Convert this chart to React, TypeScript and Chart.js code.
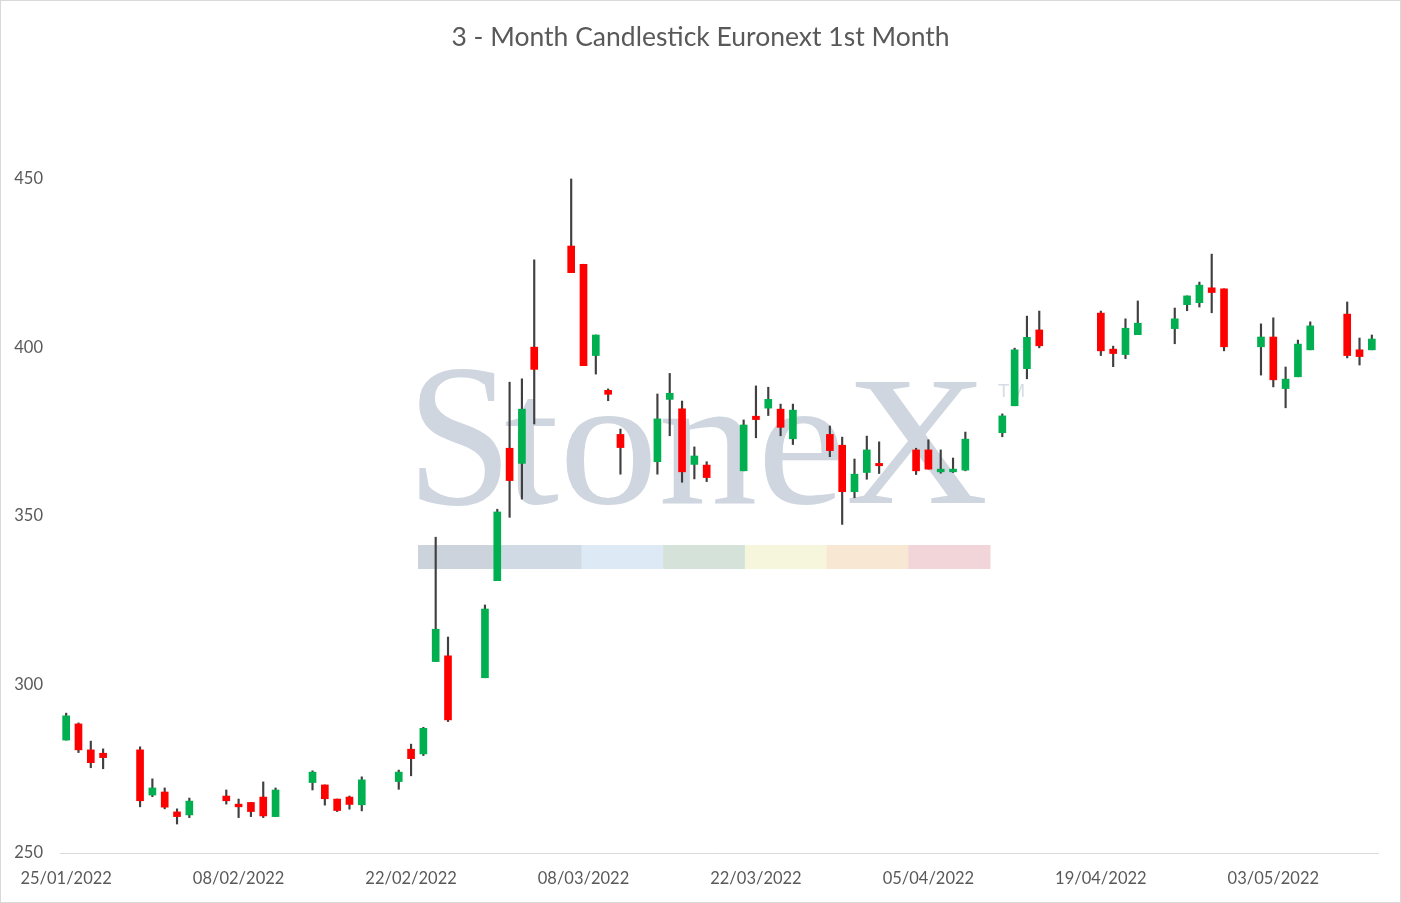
import { useEffect, useRef } from 'react';
import { Chart, registerables } from 'chart.js';

Chart.register(...registerables);

// trading days shown on the chart
const dates = [
  '25/01/2022', '26/01/2022', '27/01/2022', '28/01/2022',
  '31/01/2022', '01/02/2022', '02/02/2022', '03/02/2022', '04/02/2022',
  '07/02/2022', '08/02/2022', '09/02/2022', '10/02/2022', '11/02/2022',
  '14/02/2022', '15/02/2022', '16/02/2022', '17/02/2022', '18/02/2022',
  '21/02/2022', '22/02/2022', '23/02/2022', '24/02/2022', '25/02/2022',
  '28/02/2022', '01/03/2022', '02/03/2022', '03/03/2022', '04/03/2022',
  '07/03/2022', '08/03/2022', '09/03/2022', '10/03/2022', '11/03/2022',
  '14/03/2022', '15/03/2022', '16/03/2022', '17/03/2022', '18/03/2022',
  '21/03/2022', '22/03/2022', '23/03/2022', '24/03/2022', '25/03/2022',
  '28/03/2022', '29/03/2022', '30/03/2022', '31/03/2022', '01/04/2022',
  '04/04/2022', '05/04/2022', '06/04/2022', '07/04/2022', '08/04/2022',
  '11/04/2022', '12/04/2022', '13/04/2022', '14/04/2022',
  '19/04/2022', '20/04/2022', '21/04/2022', '22/04/2022',
  '25/04/2022', '26/04/2022', '27/04/2022', '28/04/2022', '29/04/2022',
  '02/05/2022', '03/05/2022', '04/05/2022', '05/05/2022', '06/05/2022',
  '09/05/2022', '10/05/2022', '11/05/2022',
];

const opens = [
  283.5, 288.3, 280.6, 279.6,
  280.6, 267.2, 268.1, 262.2, 261.3,
  266.9, 264.5, 265.0, 266.6, 260.8,
  270.9, 270.2, 266.0, 266.6, 264.3,
  271.2, 280.8, 279.4, 306.8, 308.5,
  302.0, 330.8, 370.1, 365.6, 400.1,
  430.1, 424.7, 397.6, 387.3, 374.2,
  366.1, 384.6, 381.8, 365.3, 365.1,
  363.4, 379.6, 382.0, 381.7, 372.9,
  374.2, 371.0, 357.2, 362.9, 365.6,
  369.6, 369.6, 363.1, 363.1, 363.6,
  374.7, 382.7, 393.7, 405.2,
  410.2, 399.5, 397.9, 403.8,
  405.6, 412.7, 413.3, 417.7, 417.4,
  400.2, 403.1, 387.8, 391.3, 399.3,
  409.9, 399.3, 399.3,
];

const highs = [
  291.5, 288.6, 283.2, 280.9,
  281.5, 272.0, 269.3, 263.1, 266.3,
  268.7, 266.0, 265.0, 271.1, 269.3,
  274.4, 270.2, 266.0, 266.9, 272.6,
  274.6, 282.3, 287.3, 343.7, 314.1,
  323.6, 352.0, 389.7, 390.7, 426.0,
  450.0, 424.7, 403.7, 387.7, 375.8,
  386.2, 392.3, 384.1, 370.5, 366.1,
  378.5, 388.6, 388.2, 383.2, 383.2,
  376.7, 373.4, 366.9, 373.7, 372.0,
  370.1, 372.6, 369.6, 367.2, 374.9,
  380.3, 399.8, 409.3, 410.8,
  410.8, 400.4, 408.5, 413.8,
  411.7, 415.3, 419.4, 427.7, 417.4,
  407.0, 408.8, 394.2, 402.2, 407.6,
  413.5, 402.8, 403.7,
];

const lows = [
  283.5, 279.8, 275.3, 275.0,
  263.7, 266.7, 263.1, 258.6, 260.5,
  264.5, 260.5, 260.8, 260.5, 260.8,
  268.7, 264.2, 262.3, 263.0, 262.5,
  268.9, 272.9, 278.9, 306.8, 289.0,
  302.0, 330.8, 349.6, 355.0, 377.3,
  422.2, 394.6, 392.1, 384.2, 362.4,
  362.4, 373.8, 360.0, 361.0, 360.2,
  363.4, 373.2, 379.8, 373.8, 371.2,
  367.6, 347.5, 355.4, 360.9, 362.6,
  362.3, 363.9, 362.7, 362.9, 363.4,
  373.5, 382.7, 390.7, 399.9,
  397.6, 394.3, 396.7, 403.8,
  401.1, 410.9, 412.0, 410.3, 399.0,
  391.8, 388.3, 382.1, 391.3, 399.3,
  396.9, 394.8, 399.3,
];

const closes = [
  290.7, 280.6, 276.8, 278.3,
  265.5, 269.3, 263.6, 260.8, 265.4,
  265.5, 263.7, 262.3, 261.0, 268.7,
  274.0, 266.1, 262.6, 264.4, 271.7,
  274.0, 278.0, 287.0, 316.4, 289.5,
  322.4, 351.2, 360.5, 381.7, 393.5,
  422.2, 394.6, 403.7, 386.1, 370.3,
  378.8, 386.4, 363.1, 367.8, 361.4,
  377.0, 378.6, 384.6, 376.3, 381.4,
  369.4, 357.2, 362.4, 369.6, 364.9,
  363.4, 363.9, 363.9, 363.9, 372.8,
  379.7, 399.3, 403.0, 400.5,
  399.0, 398.2, 405.7, 407.2,
  408.5, 415.3, 418.5, 416.3, 400.2,
  403.1, 390.4, 390.6, 401.0, 406.4,
  397.6, 397.3, 402.5,
];

const tickLabels = [
  '25/01/2022', '08/02/2022', '22/02/2022', '08/03/2022',
  '22/03/2022', '05/04/2022', '19/04/2022', '03/05/2022',
];
const yTicks = [250, 300, 350, 400, 450];

const TITLE = '3 - Month Candlestick Euronext 1st Month';
const UP = '#00B050';
const DOWN = '#FF0000';
const WICK = '#404040';
const TEXT = '#595959';
const FONT = 'Lato';

// days since the first trading day, used as the x value
const dayOf = (s: string) => {
  const [d, m, y] = s.split('/').map(Number);
  return (Date.UTC(y, m - 1, d) - Date.UTC(2022, 0, 25)) / 86400000;
};

// draw text stretched into a box
function fitText(ctx: CanvasRenderingContext2D, text: string, font: string, x0: number, x1: number, top: number, bottom: number) {
  ctx.font = font;
  const m = ctx.measureText(text);
  const w = m.actualBoundingBoxLeft + m.actualBoundingBoxRight;
  const h = m.actualBoundingBoxAscent + m.actualBoundingBoxDescent;
  const sx = (x1 - x0) / w;
  const sy = (bottom - top) / h;
  ctx.save();
  ctx.translate(x0 + m.actualBoundingBoxLeft * sx, top + m.actualBoundingBoxAscent * sy);
  ctx.scale(sx, sy);
  ctx.textAlign = 'left';
  ctx.textBaseline = 'alphabetic';
  ctx.fillText(text, 0, 0);
  ctx.restore();
}

const stripeColors = ['#ccd3dc', '#d0dae5', '#dde9f4', '#d4e2da', '#f6f6dd', '#f8e7d3', '#f1d5d8'];

const watermark = {
  id: 'watermark',
  beforeDatasetsDraw(chart: Chart) {
    const ctx = chart.ctx;
    ctx.save();
    ctx.fillStyle = '#cfd6df';
    fitText(ctx, 'S', '200px "Liberation Serif"', 419, 501, 370, 506);
    fitText(ctx, 'toneX', '200px "Liberation Serif"', 505, 985, 383, 505);
    ctx.fillStyle = '#d6dce3';
    fitText(ctx, 'TM', '40px "Liberation Sans"', 998, 1024, 384, 397);
    const x0 = 418;
    const segW = (990 - 418) / stripeColors.length;
    stripeColors.forEach((c, i) => {
      ctx.fillStyle = c;
      ctx.fillRect(x0 + i * segW, 545, segW + 0.5, 24);
    });
    ctx.restore();
  },
  afterDraw(chart: Chart) {
    const ctx = chart.ctx;
    ctx.save();
    // title, centred on the whole picture
    ctx.fillStyle = TEXT;
    ctx.font = `26.5px ${FONT}`;
    ctx.textAlign = 'center';
    ctx.textBaseline = 'alphabetic';
    ctx.fillText(TITLE, chart.width / 2, 46);
    // frame
    ctx.strokeStyle = '#d9d9d9';
    ctx.lineWidth = 1;
    ctx.strokeRect(0.5, 0.5, chart.width - 1, chart.height - 1);
    ctx.restore();
  },
};

export default function App() {
  const chartRef = useRef<HTMLCanvasElement>(null);
  const chartInstance = useRef<Chart | null>(null);

  useEffect(() => {
    document.body.style.margin = '0';
    if (!chartRef.current) return;
    if (chartInstance.current) chartInstance.current.destroy();

    const days = dates.map(dayOf);
    const colors = dates.map((_, i) => (closes[i] >= opens[i] ? UP : DOWN));

    chartInstance.current = new Chart(chartRef.current, {
      type: 'bar',
      data: {
        datasets: [
          {
            label: 'Open/Close',
            data: days.map((x, i) => ({ x, y: [opens[i], closes[i]] })),
            backgroundColor: colors,
            borderWidth: 0,
            barThickness: 7,
            grouped: false,
            order: 0,
          },
          {
            label: 'High/Low',
            data: days.map((x, i) => ({ x, y: [lows[i], highs[i]] })),
            backgroundColor: WICK,
            borderWidth: 0,
            barThickness: 1.5,
            grouped: false,
            order: 1,
          },
        ] as any,
      },
      options: {
        responsive: false,
        animation: false,
        devicePixelRatio: 1,
        layout: { padding: { left: 12, right: 23, top: 61, bottom: 0 } },
        plugins: {
          legend: { display: false },
          tooltip: { enabled: false },
          title: { display: false },
        },
        scales: {
          x: {
            type: 'linear',
            min: -0.5,
            max: 106.5,
            offset: false,
            bounds: 'data',
            grid: { display: false, offset: false },
            border: { display: true, color: '#d9d9d9', width: 1 },
            afterBuildTicks: (s: any) => {
              s.ticks = tickLabels.map((t) => ({ value: dayOf(t) }));
            },
            afterFit: (s: any) => {
              s.height = 50;
            },
            ticks: {
              autoSkip: false,
              maxRotation: 0,
              padding: 8,
              color: TEXT,
              font: { family: FONT, size: 16.5 },
              callback: (_v: any, i: number) => tickLabels[i],
            },
          },
          y: {
            type: 'linear',
            min: 250,
            max: 485,
            beginAtZero: false,
            bounds: 'data',
            grid: { display: false, drawTicks: false },
            border: { display: false },
            afterBuildTicks: (s: any) => {
              s.ticks = yTicks.map((v) => ({ value: v }));
            },
            afterFit: (s: any) => {
              s.width = 48;
            },
            ticks: {
              padding: 17,
              color: TEXT,
              font: { family: FONT, size: 16.5 },
            },
          },
        },
      } as any,
      plugins: [watermark],
    });

    return () => {
      if (chartInstance.current) {
        chartInstance.current.destroy();
        chartInstance.current = null;
      }
    };
  }, []);

  return (
    <div style={{ width: 1401, height: 903, background: '#ffffff' }}>
      <canvas ref={chartRef} width={1401} height={903} style={{ display: 'block' }}></canvas>
    </div>
  );
}
